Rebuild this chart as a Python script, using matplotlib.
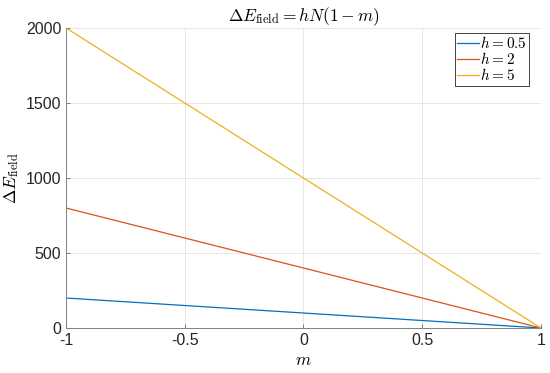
import numpy as np
import matplotlib
matplotlib.use("Agg")
import matplotlib.pyplot as plt

plt.rcParams['font.family'] = ['Liberation Sans', 'DejaVu Sans']
plt.rcParams['mathtext.fontset'] = 'cm'

m = [-1, 1]
N = 200
h_vals = [0.5, 2, 5]
h_labels = [r'$h = 0.5$', r'$h = 2$', r'$h = 5$']
colors = ['#0072BD', '#D95319', '#EDB120']

fig = plt.figure(figsize=(5.5, 3.73), dpi=100)
ax = fig.add_axes([0.12, 0.1206, 0.8636, 0.8044])

for h, lab, c in zip(h_vals, h_labels, colors):
    E = [h * N * (1 - mm) for mm in m]
    ax.plot(m, E, color=c, lw=0.9, label=lab)

ax.set_xlim(-1, 1)
ax.set_ylim(0, 2000)
ax.set_xticks([-1, -0.5, 0, 0.5, 1])
ax.set_xticklabels(['-1', '-0.5', '0', '0.5', '1'])
ax.set_yticks([0, 500, 1000, 1500, 2000])
ax.grid(True, color='#e6e6e6', lw=0.7)
ax.set_axisbelow(True)
for s in ['top', 'right']:
    ax.spines[s].set_visible(False)
for s in ['left', 'bottom']:
    ax.spines[s].set_color('#808080')
    ax.spines[s].set_linewidth(0.7)
ax.tick_params(direction='in', length=3, color='#808080', labelsize=11.5, labelcolor='#262626')

ax.set_title(r'$\Delta E_{\rm field} = hN(1-m)$', fontsize=12.5, pad=5)
ax.set_xlabel(r'$m$', fontsize=12.5)
ax.set_ylabel(r'$\Delta E_{\rm field}$', fontsize=12.5, labelpad=3)

leg = ax.legend(loc='upper right', bbox_to_anchor=(0.975, 0.983), fontsize=11,
                fancybox=False, framealpha=1, edgecolor='#262626',
                handlelength=1.4, handletextpad=0.1, borderpad=0.15,
                labelspacing=0.0, borderaxespad=0)
leg.get_frame().set_linewidth(0.6)

fig.savefig('out.png', dpi=100)
